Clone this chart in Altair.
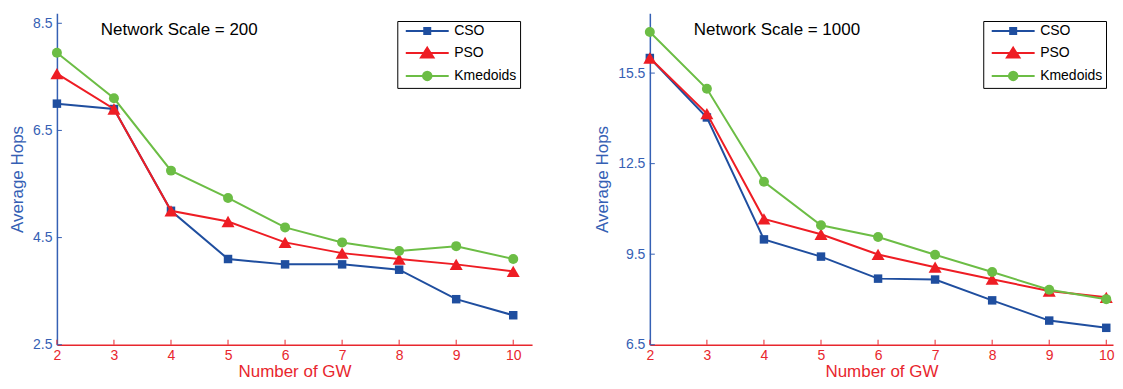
import altair as alt
import pandas as pd

# ---------------- data ----------------
gw = [2, 3, 4, 5, 6, 7, 8, 9, 10]
series = ["CSO", "PSO", "Kmedoids"]

cso_200 = [7.0, 6.9, 5.0, 4.1, 4.0, 4.0, 3.9, 3.35, 3.05]
pso_200 = [7.56, 6.9, 5.0, 4.8, 4.41, 4.21, 4.1, 4.0, 3.87]
km_200 = [7.95, 7.1, 5.75, 5.24, 4.69, 4.41, 4.25, 4.34, 4.1]

cso_1000 = [16.0, 14.03, 9.99, 9.42, 8.69, 8.66, 7.97, 7.3, 7.06]
pso_1000 = [16.0, 14.16, 10.67, 10.16, 9.49, 9.07, 8.67, 8.28, 8.07]
km_1000 = [16.86, 14.98, 11.9, 10.46, 10.07, 9.48, 8.91, 8.32, 8.01]

yticks_200 = [2.5, 4.5, 6.5, 8.5]
yticks_1000 = [6.5, 9.5, 12.5, 15.5]

# ---------------- styles ----------------
FONT = "Liberation Sans"
colors = ["#1f4e9f", "#ee1d24", "#6cbd45"]
marker_shapes = ["square", "triangle-up", "circle"]
marker_sizes = [72, 170, 100]
AX_BLUE = "#3560b4"
AX_RED = "#e8262d"

legend_paths = [
    "M-4.3,0H4.3M-0.6,-0.6H0.6V0.6H-0.6Z",
    "M-4.3,0H4.3M0,-1.05L1.25,0.9L-1.25,0.9Z",
    "M-4.3,0H4.3M-0.85,0A0.85,0.85 0 1,0 0.85,0A0.85,0.85 0 1,0 -0.85,0Z",
]

H = 332


def panel(vals, ydom, yticks, label, width, height, xmax, legx):
    rows = []
    for s, v in zip(series, vals):
        for g, y in zip(gw, v):
            rows.append({"gw": g, "val": y, "series": s})
    df = pd.DataFrame(rows)

    xaxis = alt.Axis(values=gw, format="d", title="Number of GW", grid=False,
                     domainColor=AX_RED, domainWidth=1.5, ticks=False,
                     labelColor=AX_RED, labelFontSize=14, labelFont=FONT,
                     labelPadding=4, labelFlush=False,
                     titleColor=AX_RED, titleFontSize=17, titleFont=FONT,
                     titleFontWeight="normal", titlePadding=1)
    yaxis = alt.Axis(values=yticks, format=".1f", title="Average Hops", grid=False,
                     domainColor=AX_BLUE, domainWidth=1.5, ticks=False,
                     labelColor=AX_BLUE, labelFontSize=14, labelFont=FONT,
                     labelPadding=5, labelFlush=False,
                     titleColor=AX_BLUE, titleFontSize=17, titleFont=FONT,
                     titleFontWeight="normal", titlePadding=6)
    xs = alt.Scale(domain=[2, xmax], nice=False, zero=False)
    ys = alt.Scale(domain=ydom, nice=False, zero=False)
    X = alt.X("gw:Q", scale=xs, axis=xaxis)
    Y = alt.Y("val:Q", scale=ys, axis=yaxis)

    layers = []
    # inward ticks
    layers.append(
        alt.Chart(pd.DataFrame({"gw": gw})).mark_rule(color=AX_RED, strokeWidth=1)
        .encode(x=X, y=alt.value(height), y2=alt.value(height - 5))
    )
    layers.append(
        alt.Chart(pd.DataFrame({"val": yticks})).mark_rule(color=AX_BLUE, strokeWidth=1)
        .encode(y=Y, x=alt.value(0), x2=alt.value(5))
    )
    for s, c, sh, sz in zip(series, colors, marker_shapes, marker_sizes):
        base = alt.Chart(df).transform_filter(alt.datum.series == s)
        layers.append(base.mark_line(color=c, strokeWidth=2).encode(x=X, y=Y))
        layers.append(
            base.mark_point(shape=sh, filled=True, size=sz, color=c, opacity=1, strokeWidth=0)
            .encode(x=X, y=Y)
        )

    leg = alt.Legend(title=None, orient="none", legendX=legx, legendY=7.7,
                     padding=3, strokeColor="black", fillColor="white",
                     cornerRadius=0, symbolSize=100, symbolOffset=20,
                     labelOffset=20, labelFontSize=14, labelFont=FONT,
                     labelColor="black", rowPadding=5, symbolStrokeWidth=2)
    layers.append(
        alt.Chart(df).transform_filter("false")
        .mark_point(filled=True, opacity=1, strokeWidth=2)
        .encode(
            x=X, y=Y,
            fill=alt.Fill("series:N", scale=alt.Scale(domain=series, range=colors), legend=leg),
            stroke=alt.Stroke("series:N", scale=alt.Scale(domain=series, range=colors), legend=leg),
            shape=alt.Shape("series:N", scale=alt.Scale(domain=series, range=legend_paths), legend=leg),
        )
    )
    layers.append(
        alt.Chart(pd.DataFrame({"t": [label]})).mark_text(
            align="left", baseline="middle", fontSize=17, font=FONT, color="black"
        ).encode(x=alt.value(44), y=alt.value(17), text="t:N")
    )
    return alt.layer(*layers).properties(width=width, height=height)


left = panel([cso_200, pso_200, km_200], [2.5, 8.686], yticks_200,
             "Network Scale = 200", 476, H, 10.33, 341)
right = panel([cso_1000, pso_1000, km_1000], [6.5, 17.48], yticks_1000,
              "Network Scale = 1000", 464, H, 10.118, 334)

chart = (
    alt.hconcat(left, right, spacing=61)
    .resolve_scale(fill="independent", stroke="independent", shape="independent",
                   x="independent", y="independent")
    .resolve_legend(fill="independent", stroke="independent", shape="independent")
    .properties(padding={"left": 0, "top": 5, "right": 0, "bottom": 0})
    .configure_view(stroke=None)
)

chart.save("out.html", embed_options={"renderer": "svg", "actions": False})
